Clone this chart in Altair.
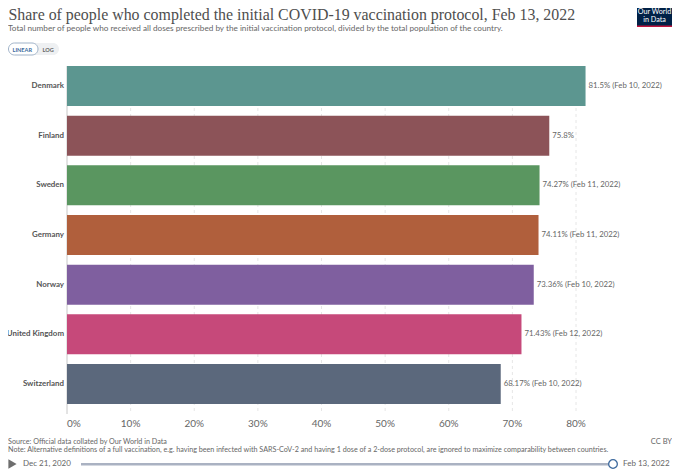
import altair as alt
import pandas as pd

countries = ["Denmark", "Finland", "Sweden", "Germany", "Norway", "United Kingdom", "Switzerland"]
shares = [81.5, 75.8, 74.27, 74.11, 73.36, 71.43, 68.17]
value_labels = ["81.5% (Feb 10, 2022)", "75.8%", "74.27% (Feb 11, 2022)", "74.11% (Feb 11, 2022)",
                "73.36% (Feb 10, 2022)", "71.43% (Feb 12, 2022)", "68.17% (Feb 10, 2022)"]
colors = ["#5c9690", "#8c5358", "#5a9660", "#b05f3c", "#7f5f9f", "#c6497a", "#5b687c"]
ticks = [0, 10, 20, 30, 40, 50, 60, 70, 80]

df = pd.DataFrame({"country": countries, "share": shares, "label": value_labels})
tick_df = pd.DataFrame({"tick": ticks, "tick_label": [f"{t}%" for t in ticks]})

OX, OY = 67, 66
xs = alt.Scale(domain=[0, 80], range=[0, 509])
ys = alt.Scale(domain=countries, range=[0, 338], paddingInner=0.195, paddingOuter=0)
X = alt.X("share:Q", scale=xs, axis=None)
Y = alt.Y("country:N", scale=ys, axis=None, sort=countries)
blank = alt.Data(values=[{"a": 1}])
FONT = "Lato"


def txt(s, x, y, size, color="#666666", font=FONT, align="left", weight="normal"):
    return alt.Chart(blank).mark_text(
        font=font, fontSize=size, color=color, align=align, baseline="middle", fontWeight=weight
    ).encode(x=alt.value(x - OX), y=alt.value(y - OY), text=alt.value(s))


def box(x1, x2, y1, y2, **kw):
    return alt.Chart(blank).mark_rect(**kw).encode(
        x=alt.value(x1 - OX), x2=alt.value(x2 - OX), y=alt.value(y1 - OY), y2=alt.value(y2 - OY)
    )


grid = alt.Chart(tick_df[tick_df.tick > 0]).mark_rule(color="#e6e6e6", strokeDash=[3, 3], strokeWidth=1).encode(
    x=alt.X("tick:Q", scale=xs, axis=None)
)
zero = alt.Chart(tick_df[tick_df.tick == 0]).mark_rule(color="#c8c8c8", strokeWidth=1).encode(
    x=alt.X("tick:Q", scale=xs, axis=None)
)
bars = alt.Chart(df).mark_bar(clip=False).encode(
    x=X, y=Y,
    color=alt.Color("country:N", scale=alt.Scale(domain=countries, range=colors), legend=None),
)
names = alt.Chart(df).mark_text(font=FONT, fontSize=7.9, fontWeight="bold", color="#555555", align="right", dx=-3).encode(
    x=alt.value(0), y=Y, text="country:N"
)
vals = alt.Chart(df).mark_text(font=FONT, fontSize=7.8, color="#666666", align="left", dx=3).encode(
    x=X, y=Y, text="label:N"
)
tick_first = alt.Chart(tick_df[tick_df.tick == 0]).mark_text(font=FONT, fontSize=10, color="#666666", align="left").encode(
    x=alt.X("tick:Q", scale=xs, axis=None), y=alt.value(358), text="tick_label:N"
)
tick_rest = alt.Chart(tick_df[tick_df.tick > 0]).mark_text(font=FONT, fontSize=10, color="#666666", align="center").encode(
    x=alt.X("tick:Q", scale=xs, axis=None), y=alt.value(358), text="tick_label:N"
)

layers = [
    grid, zero, bars, names, vals, tick_first, tick_rest,
    txt("Share of people who completed the initial COVID-19 vaccination protocol, Feb 13, 2022", 8.5, 15, 15.9,
        color="#4e4e4e", font="Liberation Serif"),
    txt("Total number of people who received all doses prescribed by the initial vaccination protocol, divided by the total population of the country.",
        8, 28.5, 8.2, color="#666666"),
    # linear/log toggle
    box(8.5, 59, 43, 55, fill="#eef0f2", cornerRadius=6),
    box(8.5, 38, 43, 55, fill="#ffffff", stroke="#9fb2c8", strokeWidth=1, cornerRadius=6),
    txt("LINEAR", 12.5, 49.5, 5.6, color="#3b6a9e", weight="bold"),
    txt("LOG", 42.5, 49.5, 5.6, color="#666666", weight="bold"),
    # logo
    box(637, 672, 6, 27, fill="#002147"),
    box(637, 672, 25.5, 27, fill="#c0143c"),
    txt("Our World", 654.5, 11.5, 7.2, color="#ffffff", align="center"),
    txt("in Data", 654.5, 19.5, 7.2, color="#ffffff", align="center"),
    # footer
    txt("Source: Official data collated by Our World in Data", 8, 442, 7.2),
    txt("Note: Alternative definitions of a full vaccination, e.g. having been infected with SARS-CoV-2 and having 1 dose of a 2-dose protocol, are ignored to maximize comparability between countries.",
        8, 450, 7.2),
    txt("CC BY", 672, 442, 7.5, align="right"),
    # timeline
    alt.Chart(blank).mark_point(shape="triangle-right", filled=True, color="#6e6e6e", size=90, opacity=1).encode(
        x=alt.value(12.5 - OX), y=alt.value(464 - OY)
    ),
    txt("Dec 21, 2020", 23, 464, 8),
    box(81, 613, 463, 465.5, fill="#aab2c2"),
    alt.Chart(blank).mark_point(shape="circle", filled=True, fill="#ffffff", stroke="#3d6a9e", strokeWidth=1.3, size=75, opacity=1).encode(
        x=alt.value(613 - OX), y=alt.value(464 - OY)
    ),
    txt("Feb 13, 2022", 623, 464, 8),
]

chart = alt.layer(*layers).resolve_scale(color="independent").properties(
    width=605, height=348, background="white",
    padding={"left": 59, "top": 58, "right": 0, "bottom": 60},
    autosize=alt.AutoSizeParams(type="none"),
).configure_view(strokeWidth=0, stroke="transparent")

chart.save("out.html", embed_options={"renderer": "svg", "actions": False})
